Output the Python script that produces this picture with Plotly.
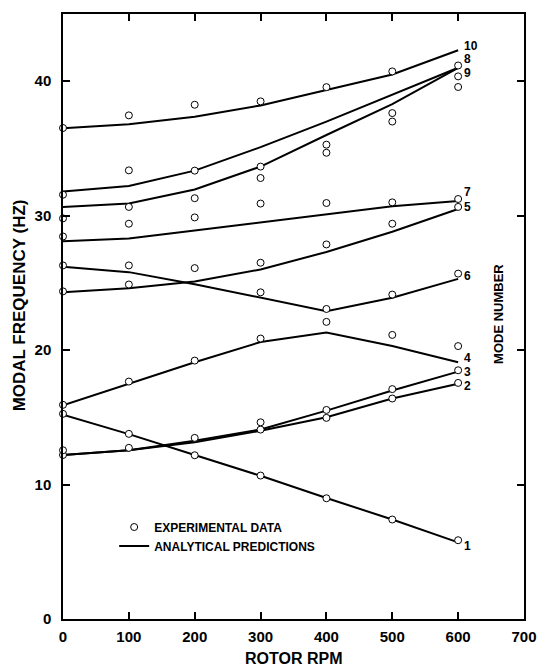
import plotly.graph_objects as go

# ---------------- data ----------------
rpm_grid = [0, 100, 200, 300, 400, 500, 600]

# analytical predictions (Hz) for each mode at rpm_grid
mode1 = [15.2, 13.75, 12.2, 10.65, 9.0, 7.4, 5.7]
mode2 = [12.2, 12.55, 13.15, 14.0, 15.0, 16.4, 17.5]
mode3 = [12.2, 12.55, 13.25, 14.1, 15.5, 17.0, 18.4]
mode4 = [15.9, 17.5, 19.1, 20.6, 21.3, 20.3, 19.1]
mode5 = [24.3, 24.6, 25.1, 26.0, 27.3, 28.8, 30.5]
mode6 = [26.2, 25.8, 24.9, 23.9, 22.9, 23.9, 25.3]
mode7 = [28.1, 28.3, 28.9, 29.5, 30.1, 30.7, 31.1]
mode8 = [31.8, 32.2, 33.35, 35.1, 37.0, 39.0, 41.0]
mode9 = [30.65, 30.9, 31.95, 33.65, 36.0, 38.3, 41.0]
mode10 = [36.5, 36.8, 37.35, 38.2, 39.35, 40.5, 42.3]

# experimental data (Hz) grouped by rotor rpm
exp_0 = [12.2, 12.55, 15.26, 15.93, 24.37, 26.3, 28.45, 29.8, 31.56, 36.52]
exp_100 = [12.73, 13.77, 17.66, 24.88, 26.3, 29.4, 30.65, 33.37, 37.46]
exp_200 = [12.18, 13.47, 19.22, 26.1, 29.87, 31.3, 33.35, 38.25]
exp_300 = [10.67, 14.09, 14.63, 20.86, 24.3, 26.5, 30.9, 32.8, 33.65, 38.5]
exp_400 = [8.98, 14.96, 15.55, 22.1, 23.06, 27.86, 30.94, 34.68, 35.28, 39.56]
exp_500 = [7.40, 16.4, 17.1, 21.13, 24.13, 29.4, 30.99, 37.0, 37.63, 40.73]
exp_600 = [5.86, 17.56, 18.5, 20.3, 25.69, 30.65, 31.24, 39.57, 40.36, 41.17]

# mode number labels at right end of the curves
mode_labels = ["1", "2", "3", "4", "5", "6", "7", "8", "9", "10"]
label_hz = [5.45, 17.3, 18.35, 19.45, 30.65, 25.5, 31.75, 41.65, 40.6, 42.6]

x_ticks = [0, 100, 200, 300, 400, 500, 600, 700]
y_ticks = [0, 10, 20, 30, 40]

# ---------------- build ----------------
modes = [mode1, mode2, mode3, mode4, mode5, mode6, mode7, mode8, mode9, mode10]
exp_groups = [exp_0, exp_100, exp_200, exp_300, exp_400, exp_500, exp_600]
exp_rpm, exp_hz = [], []
for r, grp in zip(rpm_grid, exp_groups):
    for v in grp:
        exp_rpm.append(r)
        exp_hz.append(v)

FONT = "Liberation Sans"
fig = go.Figure()

for i, m in enumerate(modes):
    fig.add_trace(go.Scatter(
        x=rpm_grid, y=m, mode="lines",
        line=dict(color="black", width=2),
        name="ANALYTICAL PREDICTIONS",
        showlegend=(i == 0), legendrank=2,
        hoverinfo="skip",
    ))

fig.add_trace(go.Scatter(
    x=exp_rpm, y=exp_hz, mode="markers",
    marker=dict(symbol="circle", size=7, color="white",
                line=dict(color="black", width=1)),
    name="EXPERIMENTAL DATA", legendrank=1,
    cliponaxis=False,
))

annotations = []
for lab, yv in zip(mode_labels, label_hz):
    annotations.append(dict(
        x=600, y=yv, xref="x", yref="y", text=lab, showarrow=False,
        xanchor="left", yanchor="middle", xshift=5, borderpad=0,
        font=dict(family=FONT, size=12, color="black", weight="bold"),
    ))

annotations += [
    dict(x=-0.0938, y=0.518, xref="paper", yref="paper",
         text="MODAL FREQUENCY (HZ)", textangle=-90, showarrow=False,
         xanchor="center", yanchor="middle",
         font=dict(family=FONT, size=17, color="black", weight="bold")),
    dict(x=0.499, y=-0.0645, xref="paper", yref="paper",
         text="ROTOR RPM", showarrow=False,
         xanchor="center", yanchor="middle", borderpad=0,
         font=dict(family=FONT, size=16, color="black", weight="bold")),
    dict(x=0.9446, y=0.505, xref="paper", yref="paper",
         text="MODE NUMBER", textangle=-90, showarrow=False,
         xanchor="center", yanchor="middle",
         font=dict(family=FONT, size=13, color="black", weight="bold")),
]

axis_common = dict(
    showgrid=False, zeroline=False, showline=True, linecolor="black",
    linewidth=1.5, mirror="ticks", ticks="inside", ticklen=7,
    tickwidth=1.5, tickcolor="black",
    tickfont=dict(family=FONT, size=15, color="black", weight="bold"),
)

fig.update_layout(
    width=549, height=670,
    margin=dict(l=63, r=17, t=13, b=51),
    paper_bgcolor="white", plot_bgcolor="white",
    xaxis=dict(range=[0, 700], tickvals=x_ticks, ticklabelstandoff=3,
               **axis_common),
    yaxis=dict(range=[0, 45], tickvals=y_ticks, ticklabelstandoff=7,
               **axis_common),
    annotations=annotations,
    showlegend=True,
    legend=dict(x=0.111, y=0.176, xanchor="left", yanchor="top",
                bgcolor="rgba(0,0,0,0)",
                font=dict(family=FONT, size=12, color="black", weight="bold"),
                traceorder="normal"),
)

fig.write_html("out.html")
